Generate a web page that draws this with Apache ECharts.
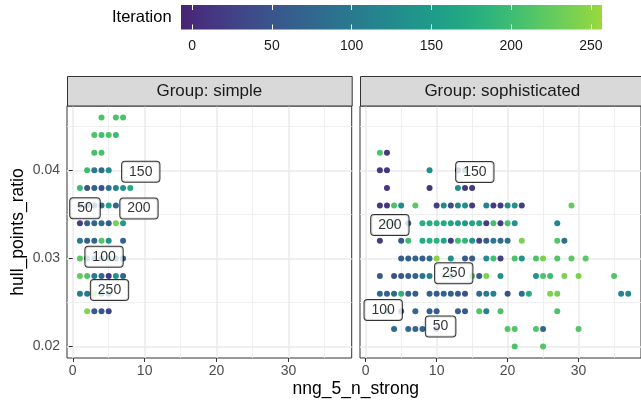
<!DOCTYPE html>
<html>
<head>
<meta charset="utf-8">
<script src="https://cdn.jsdelivr.net/npm/echarts@6/dist/echarts.min.js"></script>
<style>
html,body{margin:0;padding:0;background:#fff;}
#chart{width:641px;height:402px;}
</style>
</head>
<body>
<div id="chart"></div>
<script>
// ---------- data ----------
const facetNames = ['Group: simple', 'Group: sophisticated'];
const xTicks = [0, 10, 20, 30];
const xMinorTicks = [5, 15, 25, 35];
const yTicks = [0.02, 0.03, 0.04];
const yMinorTicks = [0.025, 0.035, 0.045];
const colorTicks = [0, 50, 100, 150, 200, 250];
const colorLimits = [-7, 257];
const xLimits = [-0.8, 38.8];
const yLimits = [0.0187, 0.0473];

// [nng_5_n_strong, hull_points_ratio, iteration]
const simplePoints = [
  [4,.046,212],[6,.046,210],[7,.046,208],
  [3,.044,210],[4,.044,205],[5,.044,212],[6,.044,200],
  [3,.042,205],[4,.042,208],
  [2,.040,200],[3,.040,100],[4,.040,80],[5,.040,130],
  [1,.038,195],[2,.038,50],[3,.038,70],[4,.038,45],[5,.038,90],[6,.038,115],[7,.038,140],[8,.038,170],
  [1,.036,50],[2,.036,40],[3,.036,60],[4,.036,90],[5,.036,165],[6,.036,75],
  [1,.034,20],[2,.034,65],[3,.034,70],[4,.034,75],[5,.034,60],[6,.034,240],[7,.034,150],
  [1,.032,100],[2,.032,65],[3,.032,70],[4,.032,215],[5,.032,135],[7,.032,70],
  [1,.030,220],[2,.030,100],[3,.030,85],[4,.030,95],[5,.030,110],[6,.030,80],[7,.030,65],
  [1,.028,225],[2,.028,215],[3,.028,105],[4,.028,75],[5,.028,15],[6,.028,140],[7,.028,70],
  [1,.026,105],[2,.026,100],[3,.026,250],[4,.026,95],[5,.026,85],
  [2,.024,245],[3,.024,55],[4,.024,50],[5,.024,35]
];
const sophisticatedPoints = [
  [2,.042,210],[3,.042,15],
  [2,.040,15],[3,.040,15],[9,.040,130],[13,.040,20],[14,.040,150],
  [3,.038,15],[9,.038,12],[13,.038,130],[14,.038,18],[15,.038,15],
  [2,.036,15],[3,.036,12],[4,.036,210],[5,.036,130],[7,.036,220],[10,.036,20],[11,.036,125],[12,.036,40],[13,.036,120],[14,.036,130],[15,.036,20],[17,.036,115],[18,.036,18],[19,.036,18],[20,.036,125],[21,.036,135],[22,.036,25],[29,.036,225],
  [3,.034,200],[4,.034,175],[6,.034,60],[8,.034,180],[9,.034,175],[10,.034,180],[11,.034,170],[12,.034,165],[13,.034,155],[14,.034,150],[15,.034,165],[16,.034,160],[17,.034,20],[18,.034,205],[19,.034,20],[20,.034,205],[21,.034,135],[27,.034,120],
  [2,.032,20],[5,.032,55],[6,.032,200],[8,.032,175],[9,.032,180],[10,.032,185],[11,.032,165],[12,.032,20],[13,.032,200],[14,.032,190],[15,.032,135],[16,.032,30],[17,.032,55],[18,.032,100],[19,.032,75],[20,.032,85],[22,.032,240],[27,.032,215],[28,.032,85],
  [5,.030,60],[6,.030,65],[7,.030,70],[8,.030,65],[9,.030,80],[10,.030,245],[12,.030,130],[14,.030,55],[15,.030,60],[17,.030,125],[18,.030,205],[19,.030,20],[21,.030,210],[22,.030,135],[24,.030,210],[25,.030,240],[27,.030,215],[29,.030,220],[31,.030,220],
  [2,.028,55],[4,.028,45],[5,.028,55],[6,.028,65],[7,.028,70],[8,.028,95],[9,.028,110],[11,.028,250],[12,.028,120],[15,.028,220],[16,.028,55],[17,.028,240],[19,.028,135],[24,.028,135],[25,.028,210],[26,.028,200],[28,.028,240],[30,.028,240],[35,.028,215],
  [2,.026,75],[3,.026,70],[4,.026,75],[5,.026,185],[6,.026,70],[7,.026,65],[9,.026,65],[10,.026,60],[11,.026,70],[12,.026,65],[13,.026,60],[14,.026,45],[16,.026,80],[17,.026,105],[18,.026,110],[20,.026,45],[22,.026,80],[23,.026,175],[26,.026,240],[27,.026,235],[36,.026,120],[37,.026,120],
  [3,.024,100],[5,.024,65],[7,.024,75],[9,.024,65],[10,.024,60],[13,.024,65],[14,.024,55],[16,.024,215],[17,.024,110],[19,.024,210],[27,.024,210],
  [4,.022,80],[6,.022,75],[7,.022,70],[8,.022,70],[10,.022,50],[20,.022,215],[21,.022,215],[24,.022,215],[25,.022,75],[30,.022,215],
  [21,.020,210],[25,.020,215]
];
// iteration labels [x, y, text]
const simpleLabels = [[9.46,.03984,'150'],[1.70,.03569,'50'],[9.21,.03567,'200'],[4.35,.03020,'100'],[5.11,.02643,'250']];
const sophisticatedLabels = [[15.38,.03981,'150'],[3.41,.03380,'200'],[12.41,.02832,'250'],[2.47,.02416,'100'],[10.56,.02227,'50']];

// ---------- styling ----------
const FONT = 'Liberation Sans, Arial, Helvetica, sans-serif';
const viridis = ['#482475','#463480','#414487','#3b528b','#355f8d','#2f6c8e','#2a788e','#25848e','#21918c','#1e9c89','#22a884','#2fb47c','#44bf70','#5ec962','#7ad151','#9bd93c'];
const gradStops = viridis.map((c, i) => ({offset: i / (viridis.length - 1), color: c}));

const PW = 284.7, PH = 252, PT = 106;
const panelLefts = [67, 360];

function mainX(gi) {
  return {
    type: 'value', gridIndex: gi, min: xLimits[0], max: xLimits[1], position: 'bottom',
    axisLine: {show: false},
    axisTick: {show: true, length: 4, lineStyle: {color: '#333333', width: 1}, customValues: xTicks},
    axisLabel: {show: true, customValues: xTicks, margin: 6, color: '#4D4D4D', fontSize: 14, fontFamily: FONT},
    splitLine: {show: true, lineStyle: {color: '#EBEBEB', width: 1.5}},
    minorTick: {show: false}
  };
}
function minorX(gi) {
  return {
    type: 'value', gridIndex: gi, min: xLimits[0], max: xLimits[1], position: 'bottom',
    axisLine: {show: false}, axisLabel: {show: false},
    axisTick: {show: false, customValues: xMinorTicks},
    splitLine: {show: true, lineStyle: {color: '#EBEBEB', width: 0.8}}
  };
}
function mainY(gi, labels) {
  return {
    type: 'value', gridIndex: gi, min: yLimits[0], max: yLimits[1],
    axisLine: {show: false},
    axisTick: {show: labels, length: 4, lineStyle: {color: '#333333', width: 1}, customValues: yTicks},
    axisLabel: {show: labels, customValues: yTicks, margin: 7, color: '#4D4D4D', fontSize: 14, fontFamily: FONT},
    splitLine: {show: true, lineStyle: {color: '#EBEBEB', width: 1.5}},
    name: labels ? 'hull_points_ratio' : '',
    nameLocation: 'middle', nameGap: 40,
    nameTextStyle: {color: '#000', fontSize: 17.5, fontFamily: FONT}
  };
}
function minorY(gi) {
  return {
    type: 'value', gridIndex: gi, min: yLimits[0], max: yLimits[1],
    axisLine: {show: false}, axisLabel: {show: false},
    axisTick: {show: false, customValues: yMinorTicks},
    splitLine: {show: true, lineStyle: {color: '#EBEBEB', width: 0.8}}
  };
}

function labelSeries(data, xi, yi) {
  return {
    type: 'scatter', xAxisIndex: xi, yAxisIndex: yi, z: 5, silent: true,
    symbolSize: 0,
    data: data.map(d => ({value: [d[0], d[1]], name: d[2]})),
    label: {
      show: true, position: 'inside', formatter: p => p.name,
      color: '#000', fontSize: 14, fontFamily: FONT, lineHeight: 14,
      backgroundColor: '#fff', borderColor: '#000', borderWidth: 1, borderRadius: 3,
      padding: [3, 7, 3, 7]
    },
    emphasis: {disabled: true}
  };
}

const chart = echarts.init(document.getElementById('chart'), null, {renderer: 'canvas'});

const option = {
  animation: false,
  backgroundColor: '#fff',
  grid: [
    {left: panelLefts[0], top: PT, width: PW, height: PH, show: true, borderColor: '#333333', borderWidth: 1, backgroundColor: '#fff', z: 0},
    {left: panelLefts[1], top: PT, width: PW, height: PH, show: true, borderColor: '#333333', borderWidth: 1, backgroundColor: '#fff', z: 0},
    {left: 181, top: 5, width: 421, height: 24.5, show: false}
  ],
  xAxis: [
    mainX(0), mainX(1), minorX(0), minorX(1),
    {
      type: 'value', gridIndex: 2, min: colorLimits[0], max: colorLimits[1], position: 'bottom', z: 10,
      axisLine: {show: false},
      axisTick: {show: true, inside: true, length: 5, lineStyle: {color: '#fff', width: 1}, customValues: colorTicks},
      axisLabel: {show: true, customValues: colorTicks, margin: 10, color: '#1a1a1a', fontSize: 14, fontFamily: FONT},
      splitLine: {show: false}
    },
    {
      type: 'value', gridIndex: 2, min: colorLimits[0], max: colorLimits[1], position: 'top', z: 10,
      axisLine: {show: false},
      axisTick: {show: true, inside: true, length: 5, lineStyle: {color: '#fff', width: 1}, customValues: colorTicks},
      axisLabel: {show: false},
      splitLine: {show: false}
    }
  ],
  yAxis: [
    mainY(0, true), mainY(1, false), minorY(0), minorY(1),
    {type: 'value', gridIndex: 2, min: 0, max: 1, show: false}
  ],
  visualMap: {
    type: 'continuous', show: false, seriesIndex: [0, 1], dimension: 2,
    min: colorLimits[0], max: colorLimits[1], inRange: {color: viridis}
  },
  series: [
    {type: 'scatter', xAxisIndex: 0, yAxisIndex: 0, symbolSize: 6, z: 3, data: simplePoints, silent: true, itemStyle: {opacity: 1}},
    {type: 'scatter', xAxisIndex: 1, yAxisIndex: 1, symbolSize: 6, z: 3, data: sophisticatedPoints, silent: true, itemStyle: {opacity: 1}},
    {
      type: 'custom', xAxisIndex: 4, yAxisIndex: 4, z: 1, silent: true,
      data: [[colorLimits[0], colorLimits[1]]],
      renderItem: function (params, api) {
        const p0 = api.coord([api.value(0), 0]);
        const p1 = api.coord([api.value(1), 1]);
        return {
          type: 'rect',
          shape: {x: p0[0], y: p1[1], width: p1[0] - p0[0], height: p0[1] - p1[1]},
          style: {fill: new echarts.graphic.LinearGradient(0, 0, 1, 0, gradStops)}
        };
      }
    },
    labelSeries(simpleLabels, 0, 0),
    labelSeries(sophisticatedLabels, 1, 1)
  ],
  graphic: [
    {type: 'rect', left: panelLefts[0], top: 76, shape: {x: 0, y: 0, width: PW, height: 29.5}, style: {fill: '#D9D9D9', stroke: '#333333', lineWidth: 1}, z: 10},
    {type: 'rect', left: panelLefts[1], top: 76, shape: {x: 0, y: 0, width: PW, height: 29.5}, style: {fill: '#D9D9D9', stroke: '#333333', lineWidth: 1}, z: 10},
    {type: 'text', x: panelLefts[0] + PW / 2, y: 91, z: 11, style: {text: facetNames[0], fill: '#1A1A1A', font: '17px ' + FONT, textAlign: 'center', textVerticalAlign: 'middle'}},
    {type: 'text', x: panelLefts[1] + PW / 2, y: 91, z: 11, style: {text: facetNames[1], fill: '#1A1A1A', font: '17px ' + FONT, textAlign: 'center', textVerticalAlign: 'middle'}},
    {type: 'text', x: (panelLefts[0] + panelLefts[1] + PW) / 2, y: 389, z: 11, style: {text: 'nng_5_n_strong', fill: '#000', font: '17.5px ' + FONT, textAlign: 'center', textVerticalAlign: 'middle'}},
    {type: 'text', x: 112, y: 17.5, z: 11, style: {text: 'Iteration', fill: '#000', font: '16.5px ' + FONT, textAlign: 'left', textVerticalAlign: 'middle'}}
  ]
};
chart.setOption(option);
</script>
</body>
</html>
